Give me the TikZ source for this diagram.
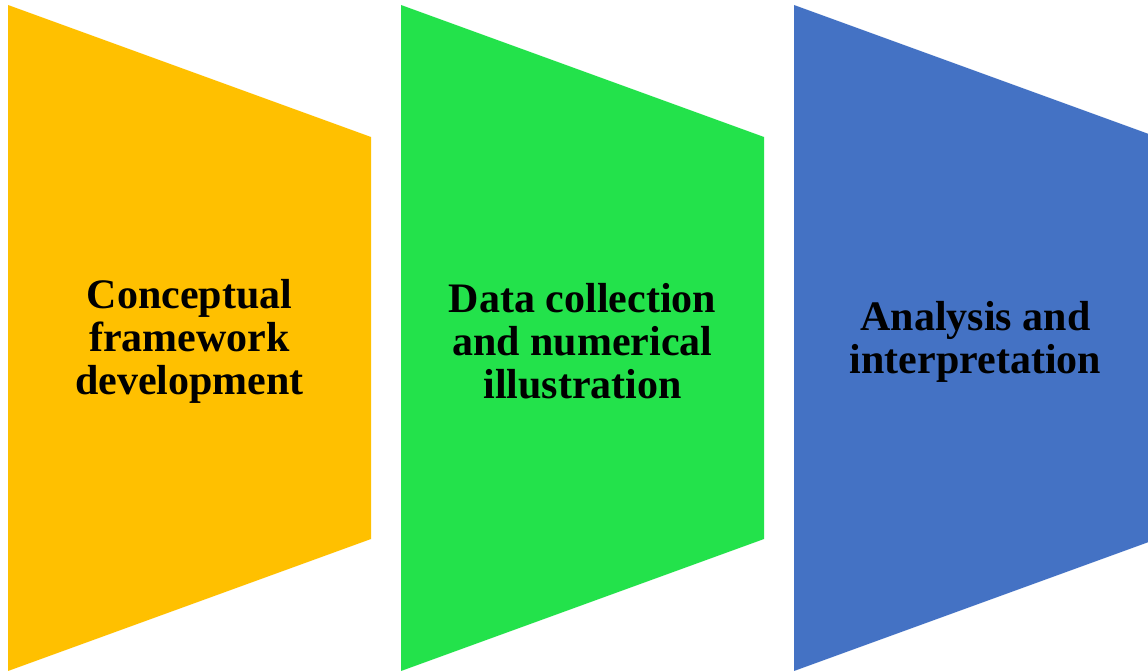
\documentclass[tikz,border=0pt]{standalone}
\usepackage{fontspec}
\setmainfont{Liberation Serif}
\usepackage{xcolor}
\usepackage{tikz}
\usetikzlibrary{positioning}

\definecolor{stageyellow}{HTML}{FFC000}
\definecolor{stagegreen}{HTML}{23E24B}
\definecolor{stageblue}{HTML}{4472C4}

\tikzset{
  stagelabel/.style={align=center, font=\fontsize{42}{43}\selectfont\bfseries, text=black, inner sep=0pt},
}

\begin{document}
\begin{tikzpicture}[x=1pt, y=-1pt]
      \clip (0,0) rectangle (1148,671);
      \fill[white] (0,0) rectangle (1148,671);
      % funnel-shaped stages, left to right
      \foreach \x/\col in {8/stageyellow, 401/stagegreen, 794/stageblue}{
        \fill[\col] (\x,5) -- (\x+363,137) -- (\x+363,539) -- (\x,671) -- cycle;
      }
      \node[stagelabel] (concept) at (189.5,341) {Conceptual\\framework\\development};
      \node[stagelabel] (data) at (582.5,341) {Data collection\\and numerical\\illustration};
      \node[stagelabel] (analysis) at (975.5,342) {Analysis and\\interpretation};
    \end{tikzpicture}
\end{document}
